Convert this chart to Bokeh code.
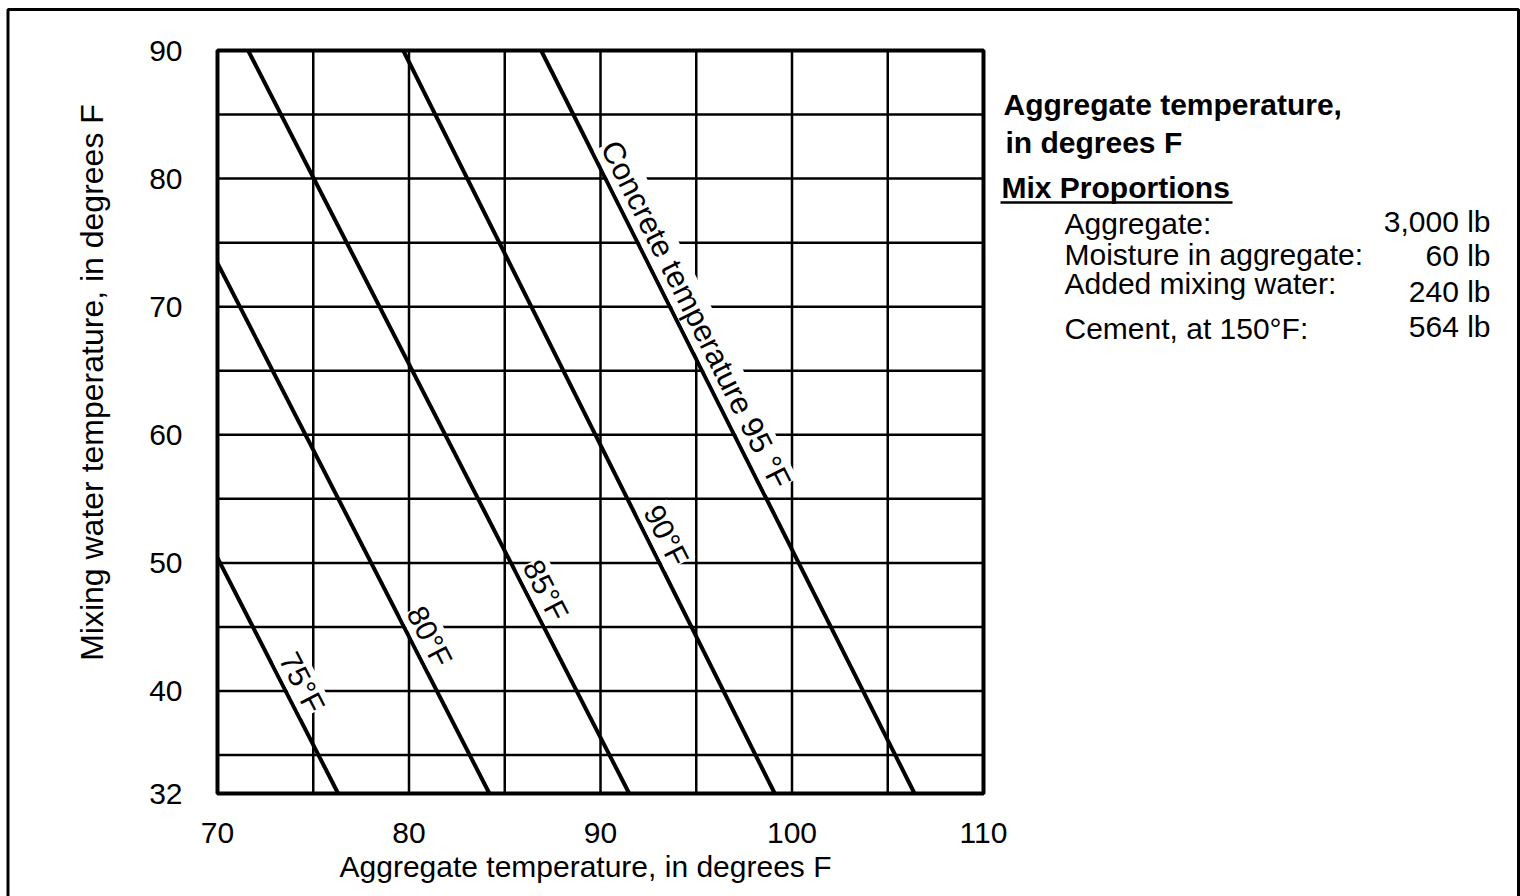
import math
from bokeh.plotting import figure
from bokeh.models import Range1d, FixedTicker, LabelSet, ColumnDataSource, LinearAxis
from bokeh.core.properties import value
from bokeh.embed import file_html
from bokeh.resources import INLINE

# ---------------- data ----------------
concrete_temps = [75, 80, 85, 90, 95]
line_labels = ["75°F", "80°F", "85°F", "90°F", "Concrete temperature 95 °F"]
agg_start = [70.0, 70.0, 71.6, 79.7, 86.9]      # aggregate temp where each line starts
water_start = [50.4, 73.4, 90.0, 90.0, 90.0]    # mixing water temp where each line starts
agg_end = [76.3, 84.2, 91.5, 99.1, 106.4]       # aggregate temp where each line ends
water_end = [32.0, 32.0, 32.0, 32.0, 32.0]
label_water = [40.0, 43.6, 47.2, 51.5, 68.7]    # water temp at which each line label sits

x_ticks = [70, 80, 90, 100, 110]
y_ticks = [32, 40, 50, 60, 70, 80, 90]
x_grid = [75, 80, 85, 90, 95, 100, 105]
y_grid = [35, 40, 45, 50, 55, 60, 65, 70, 75, 80, 85]

header_lines = ["Aggregate temperature,", "in degrees F"]
mix_title = "Mix Proportions"
mix_items = ["Aggregate:", "Moisture in aggregate:", "Added mixing water:", "Cement, at 150°F:"]
mix_values = ["3,000 lb", "60 lb", "240 lb", "564 lb"]

x_title = "Aggregate temperature, in degrees F"
y_title = "Mixing water temperature, in degrees F"

# ---------------- layout ----------------
W, H = 1520, 896
FONT = "Liberation Sans"
# pixel placement of the chart box
BOX_L, BOX_R, BOX_T, BOX_B = 217, 983, 50, 793
XMIN, XMAX = x_ticks[0], x_ticks[-1]
YMIN, YMAX = y_ticks[0], y_ticks[-1]
kx = (XMAX - XMIN) / (BOX_R - BOX_L)
ky = (YMAX - YMIN) / (BOX_B - BOX_T)


def dx(px):
    return XMIN + (px - BOX_L) * kx


def dy(py):
    return YMIN + (BOX_B - py) * ky


p = figure(width=W, height=H, x_range=Range1d(dx(0), dx(W)), y_range=Range1d(dy(H), dy(0)),
           output_backend="svg", toolbar_location=None, min_border=0,
           x_axis_location=None, y_axis_location=None)
p.background_fill_color = "white"
p.border_fill_color = "white"
p.outline_line_color = None
p.grid.visible = False

# axes fixed on the chart box edges
xaxis = LinearAxis(fixed_location=YMIN, ticker=FixedTicker(ticks=x_ticks))
yaxis = LinearAxis(fixed_location=XMIN, ticker=FixedTicker(ticks=y_ticks))
for ax in (xaxis, yaxis):
    ax.axis_line_color = None
    ax.major_tick_line_color = None
    ax.minor_tick_line_color = None
    ax.major_tick_out = 0
    ax.major_tick_in = 0
    ax.major_label_text_font = FONT
    ax.major_label_text_font_size = "30px"
    ax.major_label_text_color = "black"
xaxis.major_label_standoff = 29
yaxis.major_label_standoff = 35
p.add_layout(xaxis, "below")
p.add_layout(yaxis, "left")

# grid lines inside the chart box
p.segment(x0=x_grid, y0=[YMIN] * len(x_grid), x1=x_grid, y1=[YMAX] * len(x_grid),
          line_color="black", line_width=2.5)
p.segment(x0=[XMIN] * len(y_grid), y0=y_grid, x1=[XMAX] * len(y_grid), y1=y_grid,
          line_color="black", line_width=2.5)

# concrete temperature lines
p.segment(x0=agg_start, y0=water_start, x1=agg_end, y1=water_end,
          line_color="black", line_width=4)

# chart box
p.quad(left=[XMIN], right=[XMAX], bottom=[YMIN], top=[YMAX],
       fill_color=None, line_color="black", line_width=4)

# labels along the lines
px_per_x = 1.0 / kx
px_per_y = 1.0 / ky
lx, ang = [], []
for a0, w0, a1, w1, lw in zip(agg_start, water_start, agg_end, water_end, label_water):
    t = (w0 - lw) / (w0 - w1)
    lx.append(a0 + t * (a1 - a0))
    ang.append(-math.atan2((w0 - w1) * px_per_y, (a1 - a0) * px_per_x))
sizes = ["30px", "30px", "30px", "30px", "31px"]
src = ColumnDataSource(dict(x=lx, y=label_water, text=line_labels, angle=ang, size=sizes))
off = 2.0
th = abs(ang[-1])
ls = LabelSet(x="x", y="y", text="text", angle="angle", source=src,
              text_font=value(FONT), text_font_size="size", text_color="black",
              text_align="center", text_baseline="bottom",
              x_offset=off * math.sin(th), y_offset=off * math.cos(th),
              background_fill_color="white", background_fill_alpha=1.0)
p.add_layout(ls)

# ---------------- titles and side text ----------------
def add_text(texts, pxs, pys, size="30px", style="normal", align="left", angle=0.0):
    p.text(x=[dx(v) for v in pxs], y=[dy(v) for v in pys], text=texts,
           text_font=value(FONT), text_font_size=value(size), text_font_style=style,
           text_color="black", text_align=align, text_baseline="middle", angle=angle)


add_text([x_title], [585], [866], size="30px", align="center")
add_text([y_title], [91], [382], size="32px", align="center", angle=math.pi / 2)

add_text(header_lines, [1003, 1005], [104, 142], size="30px", style="bold")
add_text([mix_title], [1001], [187], size="30px", style="bold")
p.segment(x0=[dx(1000)], y0=[dy(202)], x1=[dx(1232)], y1=[dy(202)],
          line_color="black", line_width=2.5)

add_text(mix_items, [1064] * 4, [223, 254, 283, 328], size="30px")
add_text(mix_values, [1490] * 4, [221, 255, 291, 326], size="30px", align="right")

# outer frame of the whole picture (bottom edge lies below the visible page)
p.quad(left=[dx(7.5)], right=[dx(1518)], top=[dy(9)], bottom=[dy(915)],
       fill_color=None, line_color="black", line_width=3)

open("out.html", "w").write(file_html(p, INLINE))
